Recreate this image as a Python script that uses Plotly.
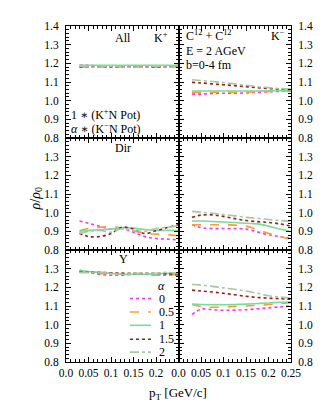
import plotly.graph_objects as go
from plotly.subplots import make_subplots

# ---------------- data ----------------
pt = [0.03, 0.05, 0.075, 0.1, 0.125, 0.15, 0.175, 0.2, 0.225, 0.25]
alphas = ["0", "0.5", "1", "1.5", "2"]

# rows: alpha = 0, 0.5, 1, 1.5, 2
all_kplus = [
    [1.19, 1.19, 1.185, 1.185, 1.185, 1.185, 1.185, 1.185, 1.185, 1.19],
    [1.18, 1.18, 1.18, 1.18, 1.18, 1.18, 1.18, 1.18, 1.18, 1.185],
    [1.19, 1.19, 1.19, 1.19, 1.19, 1.19, 1.19, 1.19, 1.19, 1.19],
    [1.18, 1.18, 1.18, 1.18, 1.18, 1.18, 1.18, 1.18, 1.18, 1.18],
    [1.185, 1.18, 1.18, 1.185, 1.18, 1.18, 1.18, 1.185, 1.18, 1.18],
]
all_kminus = [
    [1.035, 1.035, 1.038, 1.04, 1.04, 1.042, 1.045, 1.047, 1.05, 1.052],
    [1.045, 1.045, 1.045, 1.045, 1.045, 1.046, 1.047, 1.048, 1.05, 1.052],
    [1.052, 1.052, 1.052, 1.052, 1.052, 1.052, 1.052, 1.053, 1.054, 1.055],
    [1.098, 1.095, 1.09, 1.085, 1.08, 1.075, 1.07, 1.065, 1.062, 1.06],
    [1.112, 1.108, 1.103, 1.097, 1.09, 1.083, 1.075, 1.07, 1.065, 1.062],
]
dir_kplus = [
    [0.955, 0.943, 0.927, 0.912, 0.915, 0.895, 0.872, 0.862, 0.858, 0.855],
    [0.903, 0.915, 0.922, 0.925, 0.918, 0.902, 0.89, 0.885, 0.883, 0.876],
    [0.9, 0.905, 0.908, 0.912, 0.92, 0.917, 0.91, 0.906, 0.905, 0.904],
    [0.89, 0.872, 0.872, 0.888, 0.922, 0.912, 0.888, 0.903, 0.92, 0.935],
    [0.888, 0.9, 0.905, 0.895, 0.915, 0.905, 0.9, 0.915, 0.922, 0.93],
]
dir_kminus = [
    [0.935, 0.92, 0.915, 0.915, 0.915, 0.912, 0.897, 0.882, 0.872, 0.862],
    [0.935, 0.935, 0.935, 0.935, 0.933, 0.928, 0.91, 0.89, 0.873, 0.855],
    [0.955, 0.955, 0.953, 0.95, 0.947, 0.943, 0.94, 0.928, 0.912, 0.898],
    [0.975, 0.987, 0.988, 0.98, 0.968, 0.958, 0.952, 0.948, 0.94, 0.928],
    [1.007, 1.002, 0.997, 0.99, 0.983, 0.975, 0.97, 0.963, 0.958, 0.953],
]
y_kplus = [
    [1.285, 1.28, 1.27, 1.265, 1.265, 1.27, 1.27, 1.265, 1.265, 1.265],
    [1.28, 1.28, 1.275, 1.27, 1.27, 1.27, 1.27, 1.265, 1.265, 1.27],
    [1.293, 1.285, 1.28, 1.275, 1.27, 1.27, 1.27, 1.272, 1.275, 1.275],
    [1.285, 1.282, 1.28, 1.278, 1.276, 1.275, 1.275, 1.275, 1.272, 1.272],
    [1.28, 1.28, 1.28, 1.275, 1.27, 1.275, 1.275, 1.275, 1.28, 1.275],
]
y_kminus = [
    [1.055, 1.083, 1.08, 1.077, 1.078, 1.08, 1.085, 1.09, 1.095, 1.1],
    [1.108, 1.097, 1.093, 1.095, 1.098, 1.1, 1.104, 1.108, 1.113, 1.118],
    [1.11, 1.108, 1.107, 1.107, 1.108, 1.11, 1.113, 1.116, 1.12, 1.123],
    [1.185, 1.18, 1.175, 1.168, 1.16, 1.152, 1.146, 1.142, 1.139, 1.136],
    [1.215, 1.212, 1.205, 1.197, 1.19, 1.18, 1.168, 1.155, 1.148, 1.142],
]

x_ticks_left = [0.0, 0.05, 0.1, 0.15, 0.2]
x_ticks_right = [0.0, 0.05, 0.1, 0.15, 0.2, 0.25]
x_ticktext_left = ["0.0", "0.05", "0.1", "0.15", "0.2"]
x_ticktext_right = ["0.0", "0.05", "0.1", "0.15", "0.2", "0.25"]
y_ticks_top = [0.8, 0.9, 1.0, 1.1, 1.2, 1.3, 1.4]
y_ticks_lower = [0.8, 0.9, 1.0, 1.1, 1.2, 1.3]

# ---------------- styles ----------------
colors = ["#ff33ff", "#ff9a3c", "#77dd99", "#9b1c1c", "#a8c8a0"]
dashes = ["dot", "dash", "solid", "dot", "dashdot"]
widths = [1.6, 1.6, 1.6, 1.6, 1.6]
FONT = "'Liberation Serif', 'DejaVu Serif', serif"

fig = make_subplots(rows=3, cols=2, horizontal_spacing=0, vertical_spacing=0)

panels = [
    (all_kplus, 1, 1), (all_kminus, 1, 2),
    (dir_kplus, 2, 1), (dir_kminus, 2, 2),
    (y_kplus, 3, 1), (y_kminus, 3, 2),
]
for data, r, c in panels:
    for i, series in enumerate(data):
        fig.add_trace(go.Scatter(
            x=pt, y=series, mode="lines", line_shape="spline",
            line=dict(color=colors[i], dash=dashes[i], width=widths[i]),
            showlegend=False, hoverinfo="skip"), row=r, col=c)

for r in range(1, 4):
    for c in range(1, 3):
        left = c == 1
        fig.update_xaxes(
            range=[0, 0.25], showline=True, linecolor="black", linewidth=1,
            mirror="allticks", ticks="inside", ticklen=5, tickcolor="black",
            tickvals=x_ticks_left if left else x_ticks_right,
            ticktext=x_ticktext_left if left else x_ticktext_right,
            showticklabels=(r == 3), showgrid=False, zeroline=False,
            minor=dict(dtick=0.01, ticks="inside", ticklen=3, tickcolor="black"),
            tickfont=dict(family=FONT, size=11.5, color="black"),
            row=r, col=c)
        fig.update_yaxes(
            range=[0.8, 1.4], showline=True, linecolor="black", linewidth=1,
            mirror="allticks", ticks="inside", ticklen=5, tickcolor="black",
            tickvals=y_ticks_top if r == 1 else y_ticks_lower,
            ticktext=[f"{v:.1f}" for v in (y_ticks_top if r == 1 else y_ticks_lower)],
            side="left" if left else "right",
            showgrid=False, zeroline=False, ticklabelstandoff=4,
            minor=dict(dtick=0.02, ticks="inside", ticklen=3, tickcolor="black"),
            tickfont=dict(family=FONT, size=11.5, color="black"),
            row=r, col=c)

W, H = 327, 404
ml, mr, mt, mb = 58, 44, 15, 50
pw, ph = W - ml - mr, H - mt - mb


def px(xp):
    return (xp - ml) / pw


def py(yp):
    return (H - mb - yp) / ph


def ann(text, x, y, xanchor="center", size=12, textangle=0):
    fig.add_annotation(text=text, x=px(x), y=py(y), xref="paper", yref="paper",
                       xanchor=xanchor, yanchor="middle", showarrow=False,
                       textangle=textangle,
                       font=dict(family=FONT, size=size, color="black"))


ann("All", 115, 27)
ann("K<sup>+</sup>", 153, 27)
ann("1 ∗ (K<sup>+</sup>N Pot)", 61, 104, xanchor="left")
ann("<i>α</i> ∗ (K<sup>−</sup>N Pot)", 61, 118, xanchor="left")
ann("C<sup>12</sup> + C<sup>12</sup>", 176, 25, xanchor="left")
ann("E = 2 AGeV", 176, 40, xanchor="left")
ann("b=0-4 fm", 176, 54, xanchor="left")
ann("K<sup>−</sup>", 270, 25)
ann("Dir", 115, 138)
ann("Y", 115, 250)
ann("<i>ρ</i>/<i>ρ</i><sub>0</sub>", 28, 190, size=14, textangle=-90)
ann("p<sub>T</sub> [GeV/c]", 170, 386, size=13)

# manual legend
ann("<i>α</i>", 153, 277)
leg_y = [290, 303.5, 317, 331, 344]
for i, lab in enumerate(alphas):
    ann(lab, 149, leg_y[i], xanchor="left")
    fig.add_shape(type="line", xref="paper", yref="paper",
                  x0=px(122), x1=px(143), y0=py(leg_y[i]), y1=py(leg_y[i]),
                  line=dict(color=colors[i], dash=dashes[i], width=widths[i]))

fig.update_layout(
    width=W, height=H, margin=dict(l=ml, r=mr, t=mt, b=mb),
    paper_bgcolor="white", plot_bgcolor="white", showlegend=False,
    font=dict(family=FONT, size=11.5, color="black"))

fig.write_html("out.html")
